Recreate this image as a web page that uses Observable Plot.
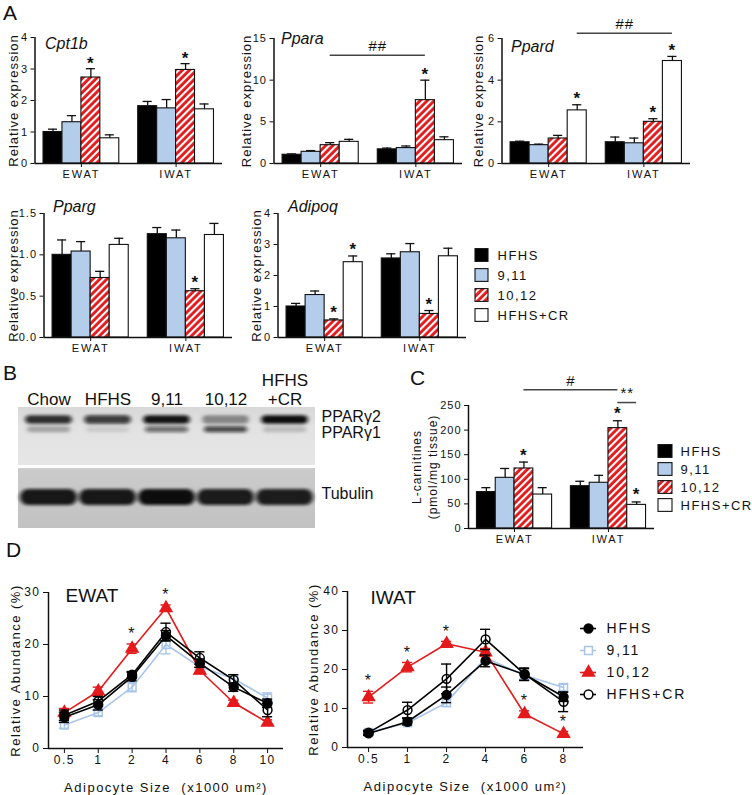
<!DOCTYPE html>
<html><head><meta charset="utf-8">
<script src="https://cdn.jsdelivr.net/npm/d3@7"></script>
<script src="https://cdn.jsdelivr.net/npm/@observablehq/plot@0.6"></script>
<style>
body{margin:0;background:#fff;}
#fig{position:relative;width:752px;height:795px;background:#fff;overflow:hidden;font-family:"Liberation Sans",Arial,sans-serif;color:#111;}
.letter{position:absolute;font-size:21px;line-height:21px;font-family:"Liberation Sans",Arial,sans-serif;}
</style></head><body>
<svg width="0" height="0" style="position:absolute">
<defs>
<pattern id="hatch" patternUnits="userSpaceOnUse" width="5" height="5" patternTransform="rotate(45)">
<rect width="5" height="5" fill="#e3191c"></rect><rect width="2.1" height="5" fill="#ffffff"></rect>
</pattern>
<linearGradient id="memTop" x1="0" y1="0" x2="0" y2="1">
<stop offset="0" stop-color="#d8d8d8"></stop><stop offset="0.35" stop-color="#e2e2e2"></stop><stop offset="1" stop-color="#e6e6e6"></stop>
</linearGradient>
<linearGradient id="memBot" x1="0" y1="0" x2="0" y2="1">
<stop offset="0" stop-color="#cbcbcb"></stop><stop offset="1" stop-color="#c2c2c2"></stop>
</linearGradient>
<filter id="blotBlur" filterUnits="userSpaceOnUse" x="-50" y="-50" width="500" height="300">
<feGaussianBlur stdDeviation="2.2 1.6"></feGaussianBlur>
</filter>
</defs>
</svg>
<div id="fig">
<div class="letter" style="left:3px;top:2px">A</div>
<div class="letter" style="left:3px;top:362px">B</div>
<div class="letter" style="left:410px;top:367px">C</div>
<div class="letter" style="left:6px;top:539px">D</div>
</div>
<script>
// ---------- DATA ----------
const series = ["HFHS", "9,11", "10,12", "HFHS+CR"];
const tissues = ["EWAT", "IWAT"];
// bar values: EWAT (4 groups) then IWAT (4 groups)
const cpt1bMean = [1.00, 1.31, 2.73, 0.80, 1.82, 1.75, 2.97, 1.72];
const cpt1bErr  = [0.09, 0.21, 0.28, 0.11, 0.15, 0.28, 0.20, 0.17];
const cpt1bStar = [2, 6];
const pparaMean = [1.05, 1.40, 2.20, 2.60, 1.70, 1.85, 7.60, 2.80];
const pparaErr  = [0.10, 0.15, 0.30, 0.30, 0.15, 0.25, 2.40, 0.40];
const pparaStar = [6];
const ppardMean = [1.02, 0.88, 1.20, 2.55, 1.02, 0.97, 2.00, 4.92];
const ppardErr  = [0.05, 0.05, 0.15, 0.27, 0.25, 0.25, 0.15, 0.22];
const ppardStar = [3, 6, 7];
const ppargMean = [1.00, 1.04, 0.72, 1.12, 1.25, 1.20, 0.56, 1.24];
const ppargErr  = [0.18, 0.12, 0.08, 0.08, 0.08, 0.10, 0.03, 0.14];
const ppargStar = [6];
const adipoqMean = [1.00, 1.37, 0.55, 2.43, 2.55, 2.75, 0.76, 2.62];
const adipoqErr  = [0.10, 0.13, 0.05, 0.20, 0.15, 0.28, 0.11, 0.26];
const adipoqStar = [2, 3, 6];
const carnMean = [74, 103, 122, 69, 86, 93, 204, 48];
const carnErr  = [9, 19, 13, 14, 10, 15, 15, 6];
const carnStar = [2, 6, 7];
// significance brackets (bar index from / to, height in data units)
const pparaBracket = [{from: 2, to: 6, y: 13, label: "##"}];
const ppardBracket = [{from: 3, to: 7, y: 6.25, label: "##"}];
const carnBracket = [{from: 2, to: 6, y: 282, label: "#"}, {from: 6, to: 7, y: 256, label: "**"}];

// western blot
const blotLanes = ["Chow", "HFHS", "9,11", "10,12", "HFHS\n+CR"];
const bandNames = ["PPARγ2", "PPARγ1", "Tubulin"];
const bandMigration = [0.10, 0.18, 0.74];
const ppar2Signal = [0.85, 0.78, 0.97, 0.40, 1.00];
const ppar1Signal = [0.28, 0.10, 0.55, 0.72, 0.18];
const tubulinSignal = [0.95, 0.95, 1.00, 0.93, 0.92];

// adipocyte size distributions
const sizesE = ["0.5", "1", "2", "4", "6", "8", "10"];
const sizesI = ["0.5", "1", "2", "4", "6", "8"];
const hfhsE = [6.0, 8.4, 13.8, 21.7, 16.4, 11.8, 8.7];
const c911E = [4.5, 6.9, 11.8, 20.0, 15.7, 13.4, 9.7];
const c1012E = [6.9, 11.0, 19.2, 27.0, 15.0, 8.8, 5.0];
const crE = [6.4, 9.1, 14.2, 22.4, 17.4, 13.2, 7.4];
const hfhsEErr = [1.0, 1.0, 0.8, 1.0, 0.8, 0.8, 0.8];
const c911EErr = [0.6, 0.6, 0.9, 1.8, 0.6, 0.8, 1.0];
const c1012EErr = [0.8, 0.8, 0.9, 0.6, 0.6, 0.5, 0.5];
const crEErr = [1.0, 0.9, 0.6, 1.7, 1.2, 1.0, 1.3];
const starsE = [2, 3];
const hfhsI = [3.6, 6.6, 13.5, 22.2, 18.7, 13.0];
const c911I = [3.9, 6.3, 11.5, 23.0, 18.5, 15.4];
const c1012I = [12.9, 20.6, 26.6, 24.4, 8.6, 3.5];
const crI = [3.8, 9.6, 17.6, 27.7, 18.8, 11.7];
const hfhsIErr = [0.5, 0.8, 2.0, 1.5, 1.5, 1.2];
const c911IErr = [0.5, 0.6, 1.0, 1.2, 1.0, 0.8];
const c1012IErr = [1.5, 1.2, 0.6, 1.0, 0.8, 0.6];
const crIErr = [0.6, 2.0, 3.8, 2.6, 1.6, 2.5];
const starsI = [0, 1, 2, 4, 5];

// ---------- STYLES ----------
const FONT = '"Liberation Sans", Arial, Helvetica, sans-serif';
const barFills = ["#000000", "#b4cdeb", "url(#hatch)", "#ffffff"];
const lineColors = ["#000000", "#a9c5ea", "#e41a1c", "#000000"];
const lineFills = ["#000000", "none", "#e41a1c", "none"];
const lineSymbols = ["circle", "square", "triangle", "circle"];
const seriesColor = {type: "ordinal", domain: series, range: barFills};
const fig = document.getElementById("fig");

function mount(node, left, top) {
  node.style.position = "absolute";
  node.style.left = left + "px";
  node.style.top = top + "px";
  fig.appendChild(node);
  return node;
}
function baseStyle(fs, ls) {
  return {fontFamily: FONT, fontSize: fs + "px", letterSpacing: ls + "px", background: "transparent", overflow: "visible", color: "#111"};
}
const pos = i => (i < 4 ? i : i + 1);

function barPanel(cfg) {
  const rows = cfg.mean.map((v, i) => ({i, p: pos(i), s: series[i % 4], v, e: cfg.err[i], star: cfg.stars.includes(i)}));
  const xDom = [-0.45, 9.45];
  const br = cfg.brackets || [];
  const marks = [
    Plot.rect(rows, {x1: d => d.p, x2: d => d.p + 1, y1: () => 0, y2: "v", fill: "s", stroke: "#111", strokeWidth: 1.1}),
    Plot.ruleX(rows, {x: d => d.p + 0.5, y1: "v", y2: d => d.v + d.e, stroke: "#111", strokeWidth: 1.3}),
    Plot.ruleY(rows, {y: d => d.v + d.e, x1: d => d.p + 0.26, x2: d => d.p + 0.74, stroke: "#111", strokeWidth: 1.3}),
    Plot.text(rows.filter(d => d.star), {x: d => d.p + 0.5, y: d => d.v + d.e, text: () => "*", dy: cfg.starDy, fontSize: 17, fontWeight: "bold"}),
    Plot.ruleY(br, {y: "y", x1: d => pos(d.from) + 0.5, x2: d => pos(d.to) + 0.5, stroke: "#444", strokeWidth: 1.5}),
    Plot.text(br, {x: d => (pos(d.from) + pos(d.to)) / 2 + 0.5, y: "y", text: "label", dy: -9, fontSize: 15}),
    Plot.ruleY([cfg.yDom[0]], {stroke: "#111", strokeWidth: 1.5}),
    Plot.ruleX([xDom[0]], {stroke: "#111", strokeWidth: 1.5}),
    Plot.text([cfg.ylabel], {frameAnchor: "left", textAnchor: "middle", lineAnchor: "middle", rotate: -90, dx: cfg.labelDx, fontSize: cfg.ylabelSize || 13, lineHeight: 1.35})
  ];
  if (cfg.gene) marks.push(Plot.text([cfg.gene], {frameAnchor: "top-left", dx: cfg.geneDx, dy: cfg.geneDy, textAnchor: "start", lineAnchor: "middle", fontSize: 16, fontStyle: "italic"}));
  const svg = Plot.plot({
    width: cfg.w, height: cfg.h,
    marginLeft: cfg.m[0], marginRight: cfg.m[1], marginTop: cfg.m[2], marginBottom: cfg.m[3],
    style: baseStyle(11, 1),
    x: {domain: xDom, ticks: [2, 7], tickFormat: d => tissues[Math.round((d - 2) / 5)], tickSize: 4, tickPadding: 3, label: null},
    y: {domain: cfg.yDom, ticks: cfg.yTicks, tickFormat: cfg.fmt, tickSize: 4, tickPadding: 3, label: null},
    color: seriesColor,
    marks
  });
  d3.select(svg).selectAll("text").filter(function() { return this.textContent === cfg.gene; }).style("letter-spacing", "0px");
  d3.select(svg).selectAll("text").filter(function() { return tissues.includes(this.textContent); }).style("letter-spacing", "1.8px");
  return mount(svg, cfg.left, cfg.top);
}

barPanel({left: 0, top: 0, w: 240, h: 190, m: [34.5, 18, 37, 27], mean: cpt1bMean, err: cpt1bErr, stars: cpt1bStar,
  yDom: [0, 4], yTicks: [0, 1, 2, 3, 4], fmt: d3.format("d"), gene: "Cpt1b", geneDx: 10, geneDy: 6, labelDx: -22.5, ylabel: "Relative expression", starDy: -5});
barPanel({left: 240, top: 0, w: 240, h: 190, m: [33.5, 18, 38, 27], mean: pparaMean, err: pparaErr, stars: pparaStar,
  yDom: [0, 15], yTicks: [0, 5, 10, 15], fmt: d3.format("d"), gene: "Ppara", geneDx: 7, geneDy: 0, labelDx: -28.5, ylabel: "Relative expression", starDy: -6, brackets: pparaBracket});
barPanel({left: 480, top: 0, w: 230, h: 190, m: [21.5, 20, 38, 27], mean: ppardMean, err: ppardErr, stars: ppardStar,
  yDom: [0, 6], yTicks: [0, 2, 4, 6], fmt: d3.format("d"), gene: "Ppard", geneDx: 9, geneDy: 8, labelDx: -24.5, ylabel: "Relative expression", starDy: -6, brackets: ppardBracket});
barPanel({left: 0, top: 190, w: 240, h: 170, m: [43.5, 8, 23, 23], mean: ppargMean, err: ppargErr, stars: ppargStar,
  yDom: [0, 1.5], yTicks: [0, 0.5, 1, 1.5], fmt: d3.format(".1f"), gene: "Pparg", geneDx: 9, geneDy: -7, labelDx: -31.5, ylabel: "Relative expression", starDy: -6});
barPanel({left: 240, top: 190, w: 240, h: 170, m: [37.5, 14, 23, 23], mean: adipoqMean, err: adipoqErr, stars: adipoqStar,
  yDom: [0, 4], yTicks: [0, 1, 2, 3, 4], fmt: d3.format("d"), gene: "Adipoq", geneDx: 10, geneDy: -7, labelDx: -22.5, ylabel: "Relative expression", starDy: -6});
barPanel({left: 370, top: 360, w: 300, h: 195, m: [98, 16, 45, 27], mean: carnMean, err: carnErr, stars: carnStar,
  yDom: [0, 250], yTicks: [0, 50, 100, 150, 200, 250], fmt: d3.format("d"), gene: null, labelDx: -44.5, ylabelSize: 12,
  ylabel: "L-carnitines\n(pmol/mg tissue)", starDy: -7, brackets: carnBracket});

function squareLegend(left, top, w, h, sx1, sx2, tx) {
  const rowH = h / series.length;
  const inset = (rowH - 13) / 2;
  const svg = Plot.plot({
    width: w, height: h, margin: 0, style: baseStyle(13, 1.5),
    x: {domain: [0, w], range: [0, w], axis: null},
    y: {type: "band", domain: series, range: [0, h], padding: 0, axis: null},
    color: seriesColor,
    marks: [
      Plot.barX(series, {x1: () => sx1, x2: () => sx2, y: d => d, fill: d => d, stroke: "#111", strokeWidth: 1.1, insetTop: inset, insetBottom: inset}),
      Plot.text(series, {x: () => tx, y: d => d, text: d => d, textAnchor: "start", fontSize: 13})
    ]
  });
  return mount(svg, left, top);
}
squareLegend(473, 244, 120, 81, 2, 15, 24);
squareLegend(655, 441, 97, 73, 3, 17, 25);

// ---------- B: western blot ----------
(function() {
  const signals = [ppar2Signal, ppar1Signal, tubulinSignal];
  const widths = [8.5, 6, 16];
  const insets = [10.5, 11, 9];
  const membranes = [{top: 0, bottom: 0.48, fill: "url(#memTop)"}, {top: 0.505, bottom: 1, fill: "url(#memBot)"}];
  const marks = [
    Plot.rect(membranes, {y1: "top", y2: "bottom", fill: "fill"})
  ];
  signals.forEach((sig, b) => {
    const rows = blotLanes.map((lane, j) => ({lane, rf: bandMigration[b], signal: sig[j]}));
    marks.push(Plot.tickY(rows, {x: "lane", y: "rf", stroke: "#0c0c0c", strokeWidth: widths[b], strokeOpacity: "signal", strokeLinecap: "round", inset: insets[b]}));
  });
  marks.push(Plot.text(blotLanes, {x: d => d, frameAnchor: "top", textAnchor: "middle", lineAnchor: "bottom", dy: -3, fontSize: 17, lineHeight: 1.06}));
  marks.push(Plot.text([bandNames[0]], {y: () => bandMigration[0], frameAnchor: "right", textAnchor: "start", lineAnchor: "middle", dx: 6, dy: -3, fontSize: 16}));
  marks.push(Plot.text([bandNames[1]], {y: () => bandMigration[1], frameAnchor: "right", textAnchor: "start", lineAnchor: "middle", dx: 6, dy: 4, fontSize: 16}));
  marks.push(Plot.text([bandNames[2]], {y: () => bandMigration[2], frameAnchor: "right", textAnchor: "start", lineAnchor: "middle", dx: 6, dy: -3, fontSize: 16}));
  const svg = Plot.plot({
    width: 372, height: 175, marginLeft: 18, marginRight: 57, marginTop: 47, marginBottom: 7,
    style: baseStyle(17, 0),
    x: {type: "band", domain: blotLanes, padding: 0, axis: null},
    y: {domain: [1, 0], axis: null},
    color: {type: "identity"},
    opacity: {domain: [0, 1], range: [0, 1]},
    marks
  });
  d3.select(svg).selectAll('g[aria-label="tick"]').attr("filter", "url(#blotBlur)");
  mount(svg, 0, 360);
})();

// ---------- D: size distributions ----------
function linePanel(cfg) {
  const order = [1, 2, 0, 3];
  const cap = cfg.cap;
  const marks = [
    Plot.ruleY([cfg.yDom[0]], {stroke: "#111", strokeWidth: 1.5}),
    Plot.ruleX([cfg.xDom[0]], {stroke: "#111", strokeWidth: 1.5})
  ];
  order.forEach(s => {
    const rows = cfg.sizes.map((_, i) => ({i, v: cfg.means[s][i], e: cfg.errs[s][i]}));
    const c = lineColors[s];
    marks.push(
      Plot.ruleX(rows, {x: "i", y1: d => d.v - d.e, y2: d => d.v + d.e, stroke: c, strokeWidth: 1.4}),
      Plot.ruleY(rows, {y: d => d.v + d.e, x1: d => d.i - cap, x2: d => d.i + cap, stroke: c, strokeWidth: 1.4}),
      Plot.ruleY(rows, {y: d => d.v - d.e, x1: d => d.i - cap, x2: d => d.i + cap, stroke: c, strokeWidth: 1.4}),
      Plot.line(rows, {x: "i", y: "v", stroke: c, strokeWidth: 1.6}),
      Plot.dot(rows, {x: "i", y: "v", symbol: lineSymbols[s], r: 4.4, stroke: c, fill: lineFills[s], strokeWidth: 1.5})
    );
  });
  const starRows = cfg.stars.map(i => ({i, top: cfg.means[2][i] + cfg.errs[2][i]}));
  marks.push(
    Plot.text(starRows, {x: "i", y: "top", text: () => "*", dy: -10, fontSize: 16}),
    Plot.text([cfg.title], {frameAnchor: "top-left", textAnchor: "start", lineAnchor: "middle", dx: cfg.titleDx, dy: cfg.titleDy, fontSize: 19}),
    Plot.text(["Relative Abundance (%)"], {frameAnchor: "left", textAnchor: "middle", lineAnchor: "middle", rotate: -90, dx: cfg.labelDx, fontSize: 13}),
    Plot.text(["Adipocyte Size  (x1000 um²)"], {frameAnchor: "bottom", textAnchor: "middle", lineAnchor: "middle", dy: 39, fontSize: 13})
  );
  const svg = Plot.plot({
    width: cfg.w, height: cfg.h,
    marginLeft: cfg.m[0], marginRight: cfg.m[1], marginTop: cfg.m[2], marginBottom: cfg.m[3],
    style: baseStyle(12, 1.5),
    x: {domain: cfg.xDom, ticks: cfg.sizes.map((_, i) => i), tickFormat: i => cfg.sizes[i], tickSize: 5, tickPadding: 2, label: null},
    y: {domain: cfg.yDom, ticks: cfg.yTicks, tickSize: 5, tickPadding: 3, label: null},
    marks
  });
  d3.select(svg).selectAll("text").filter(function() { return this.textContent === cfg.title; }).style("letter-spacing", "0px");
  return mount(svg, cfg.left, cfg.top);
}
linePanel({left: 0, top: 570, w: 370, h: 225, m: [48, 87, 22, 47], sizes: sizesE,
  means: [hfhsE, c911E, c1012E, crE], errs: [hfhsEErr, c911EErr, c1012EErr, crEErr], stars: starsE,
  xDom: [-0.47, 6.47], yDom: [0, 30], yTicks: [0, 10, 20, 30], cap: 0.15, title: "EWAT", titleDx: 17, titleDy: 3, labelDx: -33});
linePanel({left: 300, top: 570, w: 452, h: 225, m: [47, 169, 21, 48], sizes: sizesI,
  means: [hfhsI, c911I, c1012I, crI], errs: [hfhsIErr, c911IErr, c1012IErr, crIErr], stars: starsI,
  xDom: [-0.54, 5.51], yDom: [0, 40], yTicks: [0, 10, 20, 30, 40], cap: 0.13, title: "IWAT", titleDx: 23, titleDy: 6, labelDx: -34});

// D legend
(function() {
  const w = 174, h = 89;
  const marks = [];
  series.forEach((s, k) => {
    marks.push(
      Plot.ruleY([s], {y: d => d, x1: () => 2, x2: () => 18, stroke: lineColors[k], strokeWidth: 1.6}),
      Plot.dot([s], {x: () => 10, y: d => d, symbol: lineSymbols[k], r: 4.4, stroke: lineColors[k], fill: lineFills[k] === "none" ? "#fff" : lineFills[k], strokeWidth: 1.5})
    );
  });
  marks.push(Plot.text(series, {x: () => 28, y: d => d, text: d => d, textAnchor: "start", fontSize: 14}));
  const svg = Plot.plot({
    width: w, height: h, margin: 0, style: baseStyle(14, 1.9),
    x: {domain: [0, w], range: [0, w], axis: null},
    y: {type: "band", domain: series, range: [0, h], padding: 0, axis: null},
    marks
  });
  mount(svg, 578, 616);
})();
</script>
</body></html>
